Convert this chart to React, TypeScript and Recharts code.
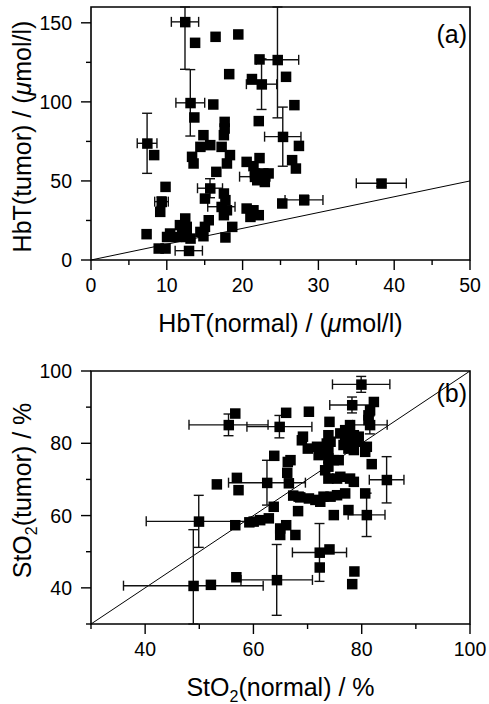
import {
  ErrorBar,
  ReferenceArea,
  ReferenceLine,
  Scatter,
  ScatterChart,
  XAxis,
  YAxis,
} from "recharts";

const FONT = '"Liberation Sans", Arial, Helvetica, sans-serif';

// (a) total haemoglobin, normal vs tumour, umol/l
const hbtNormal = [
  12.4, 13.7, 16.4, 19.4, 22.2, 24.6, 18.2, 21.2, 22.5, 25.7, 16.1, 13.1, 13.6, 17.6, 17.6, 17.5,
  22.1, 14.8, 25.3, 7.4, 8.3, 14.4, 15.7, 17.2, 18.3, 17.9, 13.3, 13.5, 16.5, 20.5, 21.4, 22.2,
  21.6, 21.9, 22.7, 23.4, 22.9, 21.6, 26.5, 27.0, 27.4, 26.8, 25.2, 28.1, 38.3, 9.8, 9.3, 9.1,
  15.7, 15.0, 17.5, 17.7, 17.2, 17.9, 17.5, 20.5, 21.4, 22.1, 21.0, 18.6, 17.7, 15.5, 15.0, 14.4,
  14.8, 12.4, 11.7, 12.6, 12.0, 12.6, 10.4, 10.0, 11.3, 13.1, 7.3, 8.9, 9.8, 12.9,
];
const hbtTumor = [
  150.6, 137.5, 141.3, 142.8, 127.0, 126.6, 117.7, 114.6, 111.2, 116.0, 98.5, 99.4, 90.3, 87.5, 83.3, 79.1,
  88.0, 79.1, 78.0, 73.8, 66.5, 71.7, 72.8, 71.7, 66.5, 61.2, 65.4, 61.2, 55.9, 62.2, 59.5, 64.6,
  54.9, 50.6, 54.9, 54.9, 49.5, 52.7, 63.3, 58.0, 72.3, 98.1, 35.9, 38.0, 48.5, 46.4, 36.9, 30.6,
  45.4, 39.0, 42.2, 38.0, 33.7, 31.6, 28.5, 32.7, 31.6, 28.5, 27.4, 21.1, 14.4, 25.3, 21.1, 17.9,
  15.2, 26.4, 22.2, 21.1, 17.9, 14.7, 16.9, 14.7, 14.7, 13.7, 16.5, 7.4, 7.4, 5.9,
];
const hbtNormalErr = [
  1.8, 0, 0, 0, 0, 2.8, 0, 0, 2.0, 0, 0, 1.9, 0, 0, 0, 0,
  0, 0, 2.4, 1.3, 0, 0, 0, 0, 0, 0, 0, 0, 0, 0, 0, 0,
  0, 0, 0, 0, 0, 2.0, 0, 0, 0, 0, 0, 2.5, 3.3, 0, 0.9, 0,
  1.65, 0, 0, 0, 1.8, 0, 0, 0, 0, 0, 0, 0, 0, 0, 0, 0,
  0, 0, 0, 0, 0, 0, 0, 0, 0, 0, 0, 0, 0, 1.8,
];
// [below, above] where the bar runs off the frame
const hbtTumorErr = [
  [30, 9.4], 0, 0, 0, 0, [36.7, 33.4], 0, 0, 16, 0, 0, 21, 0, 0, 0, 0,
  0, 0, 18.7, 19, 0, 0, 0, 0, 0, 0, 0, 0, 0, 0, 0, 0,
  0, 0, 0, 0, 0, 0, 0, 0, 0, 0, 0, 3, 2, 0, 3, 0,
  6, 0, 0, 0, 0, 0, 0, 0, 0, 0, 0, 0, 0, 0, 0, 0,
  0, 0, 0, 0, 0, 0, 0, 0, 0, 0, 0, 0, 0, 0,
];
const hbtXTicks = [0, 5, 10, 15, 20, 25, 30, 35, 40, 45, 50];
const hbtXLabels = [0, 10, 20, 30, 40, 50];
const hbtYTicks = [0, 25, 50, 75, 100, 125, 150];
const hbtYLabels = [0, 50, 100, 150];

// (b) oxygen saturation, normal vs tumour, %
const stoNormal = [
  79.9, 78.2, 82.2, 81.5, 81.2, 81.2, 81.5, 55.4, 56.6, 64.8, 66.0, 70.2, 74.0, 69.1, 68.9, 70.0,
  71.7, 72.0, 73.2, 73.8, 73.8, 73.8, 74.2, 73.5, 76.0, 76.9, 77.8, 77.2, 76.6, 77.5, 76.9, 78.5,
  79.4, 79.1, 77.8, 78.5, 75.7, 74.8, 80.6, 80.9, 81.8, 84.6, 77.8, 78.5, 80.6, 80.9, 77.5, 76.9,
  75.4, 74.2, 72.9, 71.4, 70.2, 72.3, 68.6, 75.4, 76.0, 73.8, 73.8, 73.2, 68.2, 74.8, 67.7, 66.0,
  64.9, 64.9, 66.3, 66.8, 66.2, 66.5, 63.8, 63.7, 62.5, 62.8, 61.2, 60.0, 59.2, 56.6, 49.9, 53.2,
  56.9, 57.2, 48.9, 52.1, 56.8, 64.3, 72.2, 74.0, 72.2, 78.6, 78.2, 67.3, 68.3,
];
const stoTumor = [
  96.3, 90.6, 91.5, 89.2, 87.8, 86.5, 85.1, 85.1, 88.3, 84.6, 88.5, 88.8, 86.0, 81.9, 80.9, 78.6,
  79.1, 76.8, 77.3, 78.2, 75.9, 82.3, 80.5, 80.0, 82.8, 83.7, 85.1, 81.9, 79.6, 78.6, 80.9, 82.3,
  81.9, 80.5, 80.0, 78.2, 75.4, 75.4, 77.7, 79.1, 74.3, 69.9, 70.3, 69.4, 66.2, 60.2, 61.6, 66.2,
  65.7, 65.3, 65.3, 64.4, 64.8, 63.9, 65.1, 70.3, 70.8, 70.3, 73.6, 72.6, 61.3, 60.2, 54.7, 57.4,
  56.5, 54.7, 74.9, 75.4, 71.9, 69.0, 76.6, 62.5, 69.1, 59.3, 58.8, 58.4, 58.2, 57.4, 58.4, 68.7,
  70.5, 67.1, 40.6, 40.9, 43.0, 42.2, 49.8, 50.7, 45.7, 44.6, 41.1, 65.6, 65.3,
];
const stoNormalErr = [
  5.3, 4.1, 0, 0, 0, 0, 3.2, 7.3, 0, 6.0, 0, 0, 0, 0, 0, 0,
  0, 0, 0, 0, 0, 0, 0, 0, 0, 0, 0, 0, 0, 0, 0, 0,
  0, 0, 0, 0, 0, 0, 0, 0, 0, 3.2, 0, 0, 0, 3.4, 0, 0,
  0, 0, 0, 0, 0, 0, 0, 0, 0, 0, 0, 0, 0, 0, 0, 0,
  0, 0, 0, 0, 0, 0, 0, 0, 7.1, 0, 0, 0, 0, 0, 9.7, 0,
  0, 0, 12.9, 0, 0, 6.6, 5.0, 0, 0, 0, 0, 0, 0,
];
const stoTumorErr = [
  2.2, 2.2, 0, 0, 0, 0, 2.5, 3.0, 0, 3.1, 0, 0, 0, 0, 0, 0,
  0, 0, 0, 0, 0, 0, 0, 0, 0, 0, 0, 0, 0, 0, 0, 0,
  0, 0, 0, 0, 0, 0, 0, 0, 0, 6.4, 0, 0, 0, 6.0, 0, 0,
  0, 0, 0, 0, 0, 0, 0, 0, 0, 0, 0, 0, 0, 0, 0, 0,
  0, 0, 0, 0, 0, 0, 0, 0, 6.2, 0, 0, 0, 0, 0, 7.2, 0,
  0, 0, [10.6, 15.5], 0, 0, 9.8, 8.0, 0, 0, 0, 0, 0, 0,
];
const stoXTicks = [30, 40, 50, 60, 70, 80, 90, 100];
const stoXLabels = [40, 60, 80, 100];
const stoYTicks = [30, 40, 50, 60, 70, 80, 90, 100];
const stoYLabels = [40, 60, 80, 100];

const toPoints = (xs: number[], ys: number[], xe: any[], ye: any[]) =>
  xs.map((x, i) => ({ x, y: ys[i], ex: xe[i], ey: ye[i] }));

const hbtData = toPoints(hbtNormal, hbtTumor, hbtNormalErr, hbtTumorErr);
const stoData = toPoints(stoNormal, stoTumor, stoNormalErr, stoTumorErr);

const Square = (props: any) => (
  <rect x={props.cx - 5} y={props.cy - 5} width={10.5} height={10.5} fill="#000" />
);

function BottomTick({ x, y, payload, labels }: any) {
  const major = labels.includes(payload.value);
  return (
    <g>
      <line x1={x} x2={x} y1={y} y2={y + (major ? 10 : 5)} stroke="#000" strokeWidth={1.4} />
      {major && (
        <text x={x} y={y + 32} textAnchor="middle" fontSize={19.5} fontFamily={FONT} fill="#000">
          {payload.value}
        </text>
      )}
    </g>
  );
}

function LeftTick({ x, y, payload, labels }: any) {
  const major = labels.includes(payload.value);
  return (
    <g>
      <line x1={x - (major ? 10 : 5)} x2={x} y1={y} y2={y} stroke="#000" strokeWidth={1.4} />
      {major && (
        <text x={x - 19} y={y} dy="0.36em" textAnchor="end" fontSize={19.5} fontFamily={FONT} fill="#000">
          {payload.value}
        </text>
      )}
    </g>
  );
}

const XTitle = (content: React.ReactNode) => (props: any) => {
  const { x, y, width } = props.viewBox;
  return (
    <text x={x + width / 2} y={y + 72} textAnchor="middle" fontSize={25} fontFamily={FONT} fill="#000">
      {content}
    </text>
  );
};

const YTitle = (content: React.ReactNode, shift: number) => (props: any) => {
  const { y, height } = props.viewBox;
  const cy = y + height / 2 + shift;
  return (
    <text
      x={31}
      y={cy}
      transform={`rotate(-90, 31, ${cy})`}
      textAnchor="middle"
      fontSize={25}
      fontFamily={FONT}
      fill="#000"
    >
      {content}
    </text>
  );
};

const PanelTag = (tag: string, dy: number) => (props: any) => {
  const { x, y, width } = props.viewBox;
  return (
    <text x={x + width - 3} y={y + dy} textAnchor="end" fontSize={25} fontFamily={FONT} fill="#000">
      {tag}
    </text>
  );
};

const umol = (
  <>
    (<tspan fontStyle="italic">μ</tspan>mol/l)
  </>
);

const sto2 = (rest: string) => (
  <>
    StO<tspan dy={6} fontSize={16}>2</tspan>
    <tspan dy={-6}>{rest}</tspan>
  </>
);

export default function App() {
  return (
    <div style={{ position: "absolute", left: 0, top: 0, width: 489, height: 704, background: "#fff" }}>
      <ScatterChart width={489} height={352} margin={{ top: 7, right: 19, bottom: 0, left: 0 }}>
        <XAxis
          type="number"
          dataKey="x"
          domain={[0, 50]}
          ticks={hbtXTicks}
          interval={0}
          allowDataOverflow
          height={92}
          axisLine={false}
          tickLine={false}
          tickSize={0}
          tickMargin={0}
          tick={(p: any) => <BottomTick {...p} labels={hbtXLabels} />}
          label={XTitle(<>HbT(normal) / {umol}</>)}
        />
        <YAxis
          type="number"
          dataKey="y"
          domain={[0, 160]}
          ticks={hbtYTicks}
          interval={0}
          allowDataOverflow
          width={91}
          axisLine={false}
          tickLine={false}
          tickSize={0}
          tickMargin={0}
          tick={(p: any) => <LeftTick {...p} labels={hbtYLabels} />}
          label={YTitle(<>HbT(tumor) / {umol}</>, 3)}
        />
        <ReferenceLine segment={[{ x: 0, y: 0 }, { x: 50, y: 50 }]} stroke="#000" strokeWidth={1} />
        <Scatter data={hbtData} shape={Square} isAnimationActive={false}>
          <ErrorBar dataKey="ex" direction="x" width={5} stroke="#111" strokeWidth={1.4} />
          <ErrorBar dataKey="ey" direction="y" width={5} stroke="#111" strokeWidth={1.4} />
        </Scatter>
        <ReferenceArea
          x1={0}
          x2={50}
          y1={0}
          y2={160}
          fill="none"
          stroke="#000"
          strokeWidth={1.6}
          label={PanelTag("(a)", 36)}
        />
      </ScatterChart>
      <ScatterChart width={489} height={352} margin={{ top: 19, right: 19, bottom: 0, left: 0 }}>
        <XAxis
          type="number"
          dataKey="x"
          domain={[30, 100]}
          ticks={stoXTicks}
          interval={0}
          allowDataOverflow
          height={80}
          axisLine={false}
          tickLine={false}
          tickSize={0}
          tickMargin={0}
          tick={(p: any) => <BottomTick {...p} labels={stoXLabels} />}
          label={XTitle(sto2("(normal) / %"))}
        />
        <YAxis
          type="number"
          dataKey="y"
          domain={[30, 100]}
          ticks={stoYTicks}
          interval={0}
          allowDataOverflow
          width={91}
          axisLine={false}
          tickLine={false}
          tickSize={0}
          tickMargin={0}
          tick={(p: any) => <LeftTick {...p} labels={stoYLabels} />}
          label={YTitle(sto2("(tumor) / %"), -7)}
        />
        <ReferenceLine segment={[{ x: 30, y: 30 }, { x: 100, y: 100 }]} stroke="#000" strokeWidth={1} />
        <Scatter data={stoData} shape={Square} isAnimationActive={false}>
          <ErrorBar dataKey="ex" direction="x" width={5} stroke="#111" strokeWidth={1.4} />
          <ErrorBar dataKey="ey" direction="y" width={5} stroke="#111" strokeWidth={1.4} />
        </Scatter>
        <ReferenceArea
          x1={30}
          x2={100}
          y1={30}
          y2={100}
          fill="none"
          stroke="#000"
          strokeWidth={1.6}
          label={PanelTag("(b)", 31)}
        />
      </ScatterChart>
    </div>
  );
}
